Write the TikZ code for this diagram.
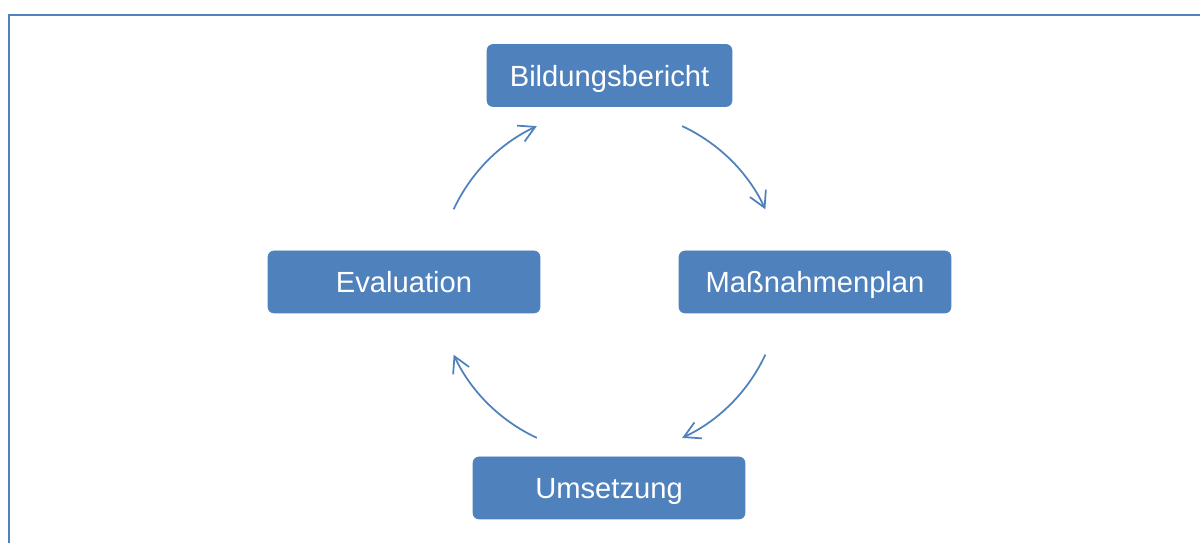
\documentclass[tikz,border=0pt]{standalone}
\usepackage{fontspec}
\setmainfont{Liberation Sans}
\usetikzlibrary{arrows.meta}
\definecolor{officeblue}{HTML}{4F81BD}
\tikzstyle{stagebox}=[%
  fill=officeblue,
  draw=officeblue,
  rounded corners=0.12cm,
  minimum height=1.24cm,
  minimum width=5.44cm,
  text height=12pt,
  text depth=0pt,
  text=white,
  font=\fontsize{16.6}{20}\selectfont,
  align=center
]
\tikzstyle{cycleflow}=[%
  draw=officeblue,
  line width=1pt,
  -{Straight Barb[length=9pt,width=10pt]}
]

\begin{document}
\begin{tikzpicture}[x=0.02cm, y=0.02cm]
      \useasboundingbox (0, 0) rectangle (1200, 543);
      \draw[officeblue, line width=1.1pt] (9, 0) -- (9, 528) -- (1200, 528);
      \coordinate (c) at (609.5, 261);
      \node[stagebox, minimum width=4.9cm] (bericht) at (609.5, 467.5) {Bildungsbericht};
      \node[stagebox] (plan) at (815, 261) {Maßnahmenplan};
      \node[stagebox] (umsetzung) at (609, 55) {Umsetzung};
      \node[stagebox] (evaluation) at (404, 261) {Evaluation};
      \foreach \a in {65, -25, -115, 155} {%
        \draw[cycleflow] ([shift={(\a:3.44cm)}]c) arc[start angle=\a, end angle=\a-40, radius=3.44cm];
      }
    \end{tikzpicture}
\end{document}
